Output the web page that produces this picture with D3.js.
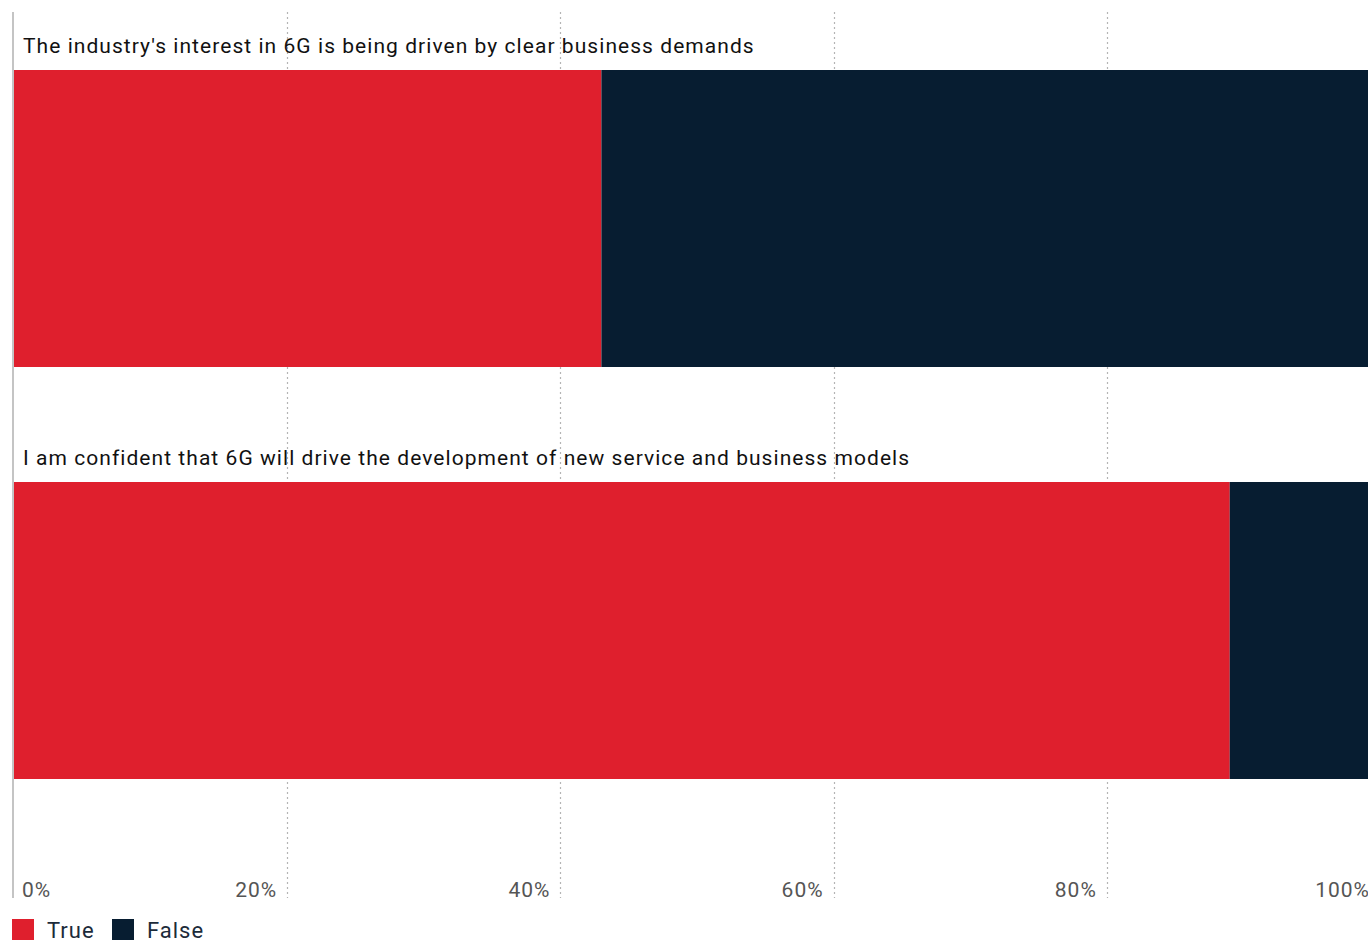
<!DOCTYPE html>
<html>
<head>
<meta charset="utf-8">
<script src="https://cdn.jsdelivr.net/npm/d3@7/dist/d3.min.js"></script>
<style>
  html, body { margin: 0; padding: 0; background: #fff; overflow: hidden; }
  svg { display: block; }
</style>
</head>
<body>
<svg id="chart" width="1368" height="940"></svg>
<script>
// Survey statements and share of respondents answering True / False (%)
const statements = [
  "The industry's interest in 6G is being driven by clear business demands",
  "I am confident that 6G will drive the development of new service and business models"
];
const trueValues = [43, 89];
const falseValues = [57, 11];
const seriesNames = ["True", "False"];
const tickValues = [0, 20, 40, 60, 80, 100];
const tickLabels = ["0%", "20%", "40%", "60%", "80%", "100%"];

const colors = { True: "#DF1F2D", False: "#071D31" };
const fontFamily = "Roboto, 'Open Sans', sans-serif";

const svg = d3.select("#chart");

const x = d3.scaleLinear().domain([0, 100]).range([14, 1380]);
const band = d3.scaleBand().domain(statements).range([12, 836]).paddingInner(0).paddingOuter(0);

const rows = statements.map((s, i) => ({
  statement: s,
  True: trueValues[i],
  False: falseValues[i]
}));
const stacked = d3.stack().keys(seriesNames)(rows);

// Dotted vertical gridlines
svg.append("g")
  .selectAll("line")
  .data(tickValues.filter(d => d > 0))
  .join("line")
  .attr("x1", d => Math.round(x(d)) + 0.5)
  .attr("x2", d => Math.round(x(d)) + 0.5)
  .attr("y1", 12)
  .attr("y2", 898)
  .attr("stroke", "#b4b4b4")
  .attr("stroke-width", 1.2)
  .attr("stroke-dasharray", "2,3");

// Stacked bars: each band holds a label line above a bar
const barTop = s => band(s) + 58;
const barHeight = 297;

svg.append("g")
  .selectAll("g")
  .data(stacked)
  .join("g")
  .attr("fill", d => colors[d.key])
  .selectAll("rect")
  .data(d => d)
  .join("rect")
  .attr("x", d => x(d[0]))
  .attr("width", d => x(d[1]) - x(d[0]))
  .attr("y", d => barTop(d.data.statement))
  .attr("height", barHeight);

// Statement labels
svg.append("g")
  .selectAll("text")
  .data(statements)
  .join("text")
  .attr("x", 23)
  .attr("y", s => band(s) + 41)
  .attr("font-family", fontFamily)
  .attr("font-size", 21)
  .attr("letter-spacing", 1.05)
  .attr("fill", "#111")
  .text(s => s);

// Left axis line
svg.append("line")
  .attr("x1", 13).attr("x2", 13)
  .attr("y1", 12).attr("y2", 898)
  .attr("stroke", "#c4c4c4")
  .attr("stroke-width", 2);

// Bottom tick labels
svg.append("g")
  .selectAll("text")
  .data(tickValues)
  .join("text")
  .attr("x", (d, i) => i === 0 ? 22 : x(d) - 10)
  .attr("y", 897)
  .attr("text-anchor", (d, i) => i === 0 ? "start" : "end")
  .attr("font-family", fontFamily)
  .attr("font-size", 21)
  .attr("letter-spacing", 1)
  .attr("fill", "#555")
  .text((d, i) => tickLabels[i]);

// Legend
const legend = svg.append("g");
const legendX = [12, 112];
seriesNames.forEach((name, i) => {
  legend.append("rect")
    .attr("x", legendX[i]).attr("y", 919)
    .attr("width", 22).attr("height", 22)
    .attr("fill", colors[name]);
  legend.append("text")
    .attr("x", legendX[i] + 35).attr("y", 938)
    .attr("font-family", fontFamily)
    .attr("font-size", 22)
    .attr("letter-spacing", 1)
    .attr("fill", "#1c2b3a")
    .text(name);
});
</script>
</body>
</html>
